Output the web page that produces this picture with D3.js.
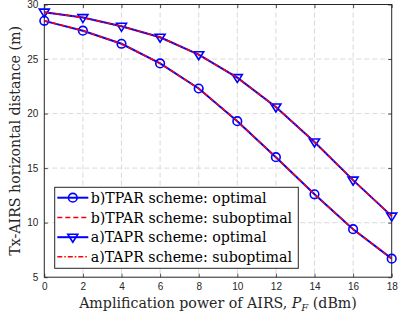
<!DOCTYPE html>
<html><head><meta charset="utf-8">
<script src="https://cdn.jsdelivr.net/npm/d3@7"></script>
<style>body{margin:0;background:#fff}</style>
</head><body><svg id="c" width="398" height="320"></svg>
<script>
const powers = [0,2,4,6,8,10,12,14,16,18];
const tparOpt = [28.5,27.6,26.4,24.6,22.3,19.3,16.0,12.6,9.4,6.7];
const tparSub = [28.5,27.6,26.4,24.6,22.3,19.3,16.0,12.6,9.4,6.7];
const taprOpt = [29.3,28.8,28.0,27.0,25.4,23.3,20.6,17.4,13.9,10.6];
const taprSub = [29.3,28.8,28.0,27.0,25.4,23.3,20.6,17.4,13.9,10.6];
const xTicks = [0,2,4,6,8,10,12,14,16,18];
const yTicks = [5,10,15,20,25,30];
const legendLabels = ["b)TPAR scheme: optimal","b)TPAR scheme: suboptimal","a)TAPR scheme: optimal","a)TAPR scheme: suboptimal"];

const svg = d3.select("#c");
const L=44.3, R=391.7, T=4.5, B=277.2;
const x = d3.scaleLinear().domain([0,18]).range([L,R]);
const y = d3.scaleLinear().domain([5,30]).range([B,T]);
const serif = "'DejaVu Serif',serif";

// grid
const g = svg.append("g");
g.selectAll(".gx").data(xTicks.slice(1,-1)).enter().append("line")
  .attr("x1",d=>x(d)).attr("x2",d=>x(d)).attr("y1",T).attr("y2",B)
  .attr("stroke","#d9d9d9").attr("stroke-width",1).attr("stroke-dasharray","5,3");
g.selectAll(".gy").data(yTicks.slice(1,-1)).enter().append("line")
  .attr("y1",d=>y(d)).attr("y2",d=>y(d)).attr("x1",L).attr("x2",R)
  .attr("stroke","#d9d9d9").attr("stroke-width",1).attr("stroke-dasharray","5,3");

// axes
const ax = svg.append("g").attr("transform",`translate(0,${B})`)
  .call(d3.axisBottom(x).tickValues(xTicks).tickSize(-3.5).tickPadding(6).tickFormat(d3.format("d")));
const axT = svg.append("g").attr("transform",`translate(0,${T})`)
  .call(d3.axisTop(x).tickValues(xTicks).tickSize(-3.5).tickFormat(""));
const ay = svg.append("g").attr("transform",`translate(${L},0)`)
  .call(d3.axisLeft(y).tickValues(yTicks).tickSize(-3.5).tickPadding(6).tickFormat(d3.format("d")));
const ayR = svg.append("g").attr("transform",`translate(${R},0)`)
  .call(d3.axisRight(y).tickValues(yTicks).tickSize(-3.5).tickFormat(""));
[ax,axT,ay,ayR].forEach(a=>{
  a.select(".domain").remove();
  a.selectAll("line").attr("stroke","#262626").attr("stroke-width",0.8);
  a.selectAll("text").attr("fill","#262626").style("font-family","'Liberation Sans',Arial,sans-serif").style("font-size","10px");
});
svg.append("rect").attr("x",L).attr("y",T).attr("width",R-L).attr("height",B-T)
  .attr("fill","none").attr("stroke","#262626").attr("stroke-width",1);

const line = d3.line().x((d,i)=>x(powers[i])).y(d=>y(d));
const blue="#0000ff", red="#ff0000";
function drawSeries(vals, marker){
  svg.append("path").datum(vals).attr("d",line).attr("fill","none").attr("stroke",blue).attr("stroke-width",2);
  const m = svg.append("g");
  vals.forEach((v,i)=>drawMarker(m, x(powers[i]), y(v), marker));
}
function drawMarker(m, cx, cy, marker){
  if(marker==="circle"){
    m.append("circle").attr("cx",cx).attr("cy",cy).attr("r",4.3).attr("fill","none").attr("stroke",blue).attr("stroke-width",1.6);
  } else {
    const s=5;
    m.append("path").attr("d",`M${cx-s},${cy-s*0.6}L${cx+s},${cy-s*0.6}L${cx},${cy+s*1.0}Z`)
      .attr("fill","none").attr("stroke",blue).attr("stroke-width",1.6);
  }
}
drawSeries(tparOpt,"circle");
drawSeries(taprOpt,"tri");
svg.append("path").datum(tparSub).attr("d",line).attr("fill","none").attr("stroke",red).attr("stroke-width",1.5).attr("stroke-dasharray","5,3");
svg.append("path").datum(taprSub).attr("d",line).attr("fill","none").attr("stroke",red).attr("stroke-width",1.5).attr("stroke-dasharray","5,2,1.5,2");

// legend
const lg = svg.append("g");
lg.append("rect").attr("x",54.7).attr("y",187.3).attr("width",243.6).attr("height",81).attr("fill","#fff").attr("stroke","#262626").attr("stroke-width",1);
const rowsY=[197.7,217.5,237.2,256.8];
const styles=[
  {c:blue,w:2,da:null,m:"circle"},
  {c:red,w:1.5,da:"5,3",m:null},
  {c:blue,w:2,da:null,m:"tri"},
  {c:red,w:1.5,da:"5,2,1.5,2",m:null}];
legendLabels.forEach((lab,i)=>{
  const st=styles[i];
  const ln=lg.append("line").attr("x1",57.3).attr("x2",88.3).attr("y1",rowsY[i]).attr("y2",rowsY[i]).attr("stroke",st.c).attr("stroke-width",st.w);
  if(st.da) ln.attr("stroke-dasharray",st.da);
  if(st.m) drawMarker(lg,72.8,rowsY[i],st.m);
  lg.append("text").attr("x",90.7).attr("y",rowsY[i]+5).text(lab)
    .style("font-family",serif).style("font-size","14.2px").attr("fill","#000");
});

// axis labels
svg.append("text").attr("transform",`translate(19.5,${(T+B)/2}) rotate(-90)`).attr("text-anchor","middle")
  .style("font-family",serif).style("font-size","14.2px").attr("fill","#262626").text("Tx-AIRS horizontal distance (m)");
const xl = svg.append("text").attr("x",218).attr("y",308).attr("text-anchor","middle")
  .style("font-family",serif).style("font-size","14.2px").attr("fill","#262626");
xl.append("tspan").text("Amplification power of AIRS, ");
xl.append("tspan").style("font-style","italic").text("P");
xl.append("tspan").attr("dy",3).style("font-size","10px").style("font-style","italic").text("F");
xl.append("tspan").attr("dy",-3).text(" (dBm)");
</script></body></html>
